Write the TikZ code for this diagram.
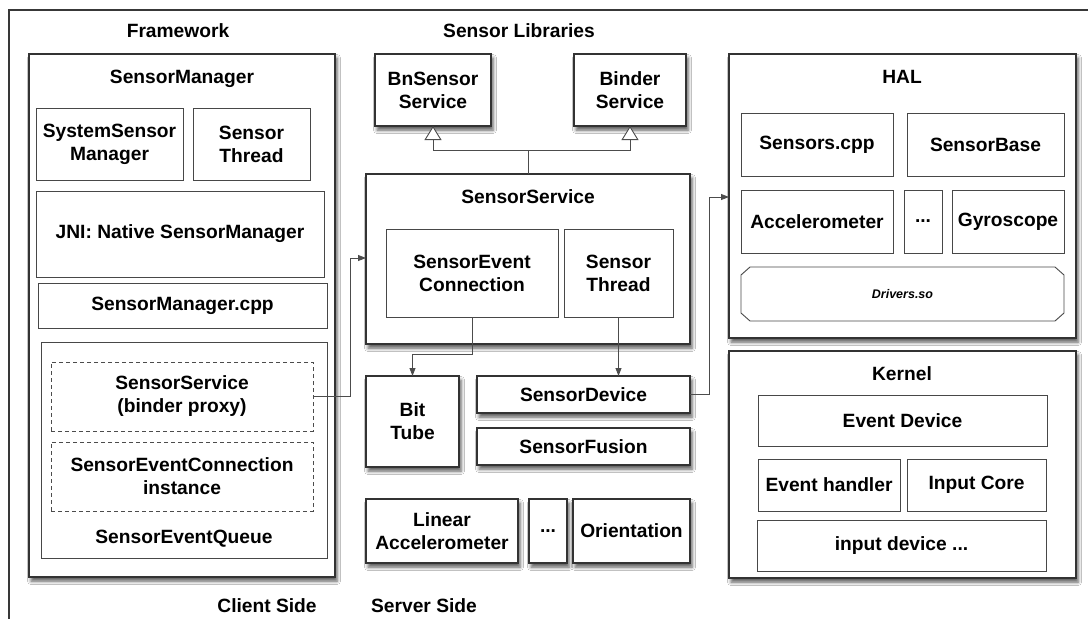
\documentclass[tikz,border=0pt]{standalone}
\usepackage{fontspec}
\setmainfont{Liberation Sans}
\usetikzlibrary{shadows.blur,arrows.meta,calc}
\begin{document}
\begin{tikzpicture}[x=1pt,y=-1pt,
  txt/.style={font=\fontsize{19.2}{23}\selectfont\bfseries, align=center},
  obox/.style={draw=black!80, line width=1.3pt, fill=white, anchor=north west, inner sep=0pt, outer sep=0pt,
     blur shadow={shadow xshift=2pt, shadow yshift=-4pt, shadow blur radius=3.5pt, shadow opacity=65}, txt},
  ibox/.style={draw=black!72, line width=0.9pt, fill=white, anchor=north west, inner sep=0pt, outer sep=0pt, txt},
  dbox/.style={ibox, dash pattern=on 4pt off 3pt, draw=black!70},
  conn/.style={draw=black!70, line width=0.9pt},
  arr/.style={conn, -{Triangle[length=8pt,width=6pt]}},
  inh/.style={conn, -{Triangle[open,length=14pt,width=17pt,fill=white]}},
  lbl/.style={txt, anchor=base, inner sep=0pt}
]
\useasboundingbox (0,0) rectangle (1088,619);
\fill[white] (0,0) rectangle (1088,619);
% outer frame
\draw[draw=black!78, line width=1.2pt] (1088,10) -- (9,10) -- (9,619);

% headings
\node[lbl] (hFw) at (178,37) {Framework};
\node[lbl] (hSL) at (519,37) {Sensor Libraries};
\node[lbl] (hCS) at (267,612) {Client Side};
\node[lbl] (hSS) at (424,612) {Server Side};

% Framework
\node[obox, minimum width=306, minimum height=523] (sm) at (29,54) {};
\node[lbl] (smT) at (182,83) {SensorManager};
\node[ibox, minimum width=147, minimum height=72] (ssm) at (36,108) {SystemSensor\\Manager};
\node[ibox, minimum width=117, minimum height=72] (smt) at (193,108) {Sensor\\Thread};
\node[ibox, minimum width=288, minimum height=86] (jni) at (36,191) {JNI: Native SensorManager};
\node[ibox, minimum width=289, minimum height=45] (smcpp) at (38,283) {SensorManager.cpp};
\node[ibox, minimum width=286, minimum height=216] (seq) at (41,342) {};
\node[dbox, minimum width=262, minimum height=69] (proxy) at (51,362) {SensorService\\(binder proxy)};
\node[dbox, minimum width=262, minimum height=69] (seci) at (51,442) {SensorEventConnection\\instance};
\node[lbl] (seqT) at (184,543) {SensorEventQueue};

% Sensor libraries
\node[obox, minimum width=116, minimum height=72] (bn) at (375,54) {BnSensor\\Service};
\node[obox, minimum width=112, minimum height=72] (binder) at (574,54) {Binder\\Service};
\node[obox, minimum width=324, minimum height=170] (ss) at (366,174) {};
\node[lbl] (ssT) at (528,203) {SensorService};
\node[ibox, minimum width=172, minimum height=88] (sec) at (386,229) {SensorEvent\\Connection};
\node[ibox, minimum width=109, minimum height=88] (sst) at (564,229) {Sensor\\Thread};
\node[obox, minimum width=93, minimum height=91] (bt) at (366,376) {Bit\\Tube};
\node[obox, minimum width=213, minimum height=37] (sd) at (477,376) {SensorDevice};
\node[obox, minimum width=213, minimum height=37] (sf) at (477,428) {SensorFusion};
\node[obox, minimum width=152, minimum height=64] (la) at (366,499) {Linear\\Accelerometer};
\node[obox, minimum width=38, minimum height=64] (dots1) at (529,499) {...};
\node[obox, minimum width=117, minimum height=64] (ori) at (573,499) {Orientation};

% HAL
\node[obox, minimum width=347, minimum height=284] (hal) at (729,54) {};
\node[lbl] (halT) at (902,83) {HAL};
\node[ibox, minimum width=152, minimum height=63] (scpp) at (741,113) {Sensors.cpp};
\node[ibox, minimum width=157, minimum height=63] (sb) at (907,113) {SensorBase};
\node[ibox, minimum width=152, minimum height=63] (acc) at (741,190) {Accelerometer};
\node[ibox, minimum width=38, minimum height=63] (dots2) at (904,190) {...};
\node[ibox, minimum width=112, minimum height=63] (gyro) at (952,190) {Gyroscope};
\node[anchor=north west, inner sep=0pt, outer sep=0pt, minimum width=323, minimum height=54,
      font=\fontsize{12.5}{15}\selectfont\bfseries\itshape] (drv) at (741,267) {Drivers.so};
\draw[draw=black!72, line width=0.9pt]
  ([xshift=9pt]drv.north west) -- ([xshift=-9pt]drv.north east) -- ([yshift=-8pt]drv.north east)
  -- ([yshift=8pt]drv.south east) -- ([xshift=-9pt]drv.south east) -- ([xshift=9pt]drv.south west)
  -- ([yshift=8pt]drv.south west) -- ([yshift=-8pt]drv.north west) -- cycle;

% Kernel
\node[obox, minimum width=347, minimum height=227] (kern) at (729,351) {};
\node[lbl] (kernT) at (902,380) {Kernel};
\node[ibox, minimum width=289, minimum height=51] (ed) at (758,395) {Event Device};
\node[ibox, minimum width=142, minimum height=52] (eh) at (758,459) {Event handler};
\node[ibox, minimum width=139, minimum height=52] (ic) at (907,459) {Input Core};
\node[ibox, minimum width=289, minimum height=51] (id) at (757,520) {input device ...};

% connectors
\coordinate (c1) at (350,258);
\draw[arr] (proxy.east) -| (c1) -- (c1 -| ss.west);
\coordinate (c2) at (709,197);
\draw[arr] (sd.east) -| (c2) -- (c2 -| hal.west);
\coordinate (c3) at (0,354);
\draw[arr] (sec.south) -- (sec.south |- c3) -| (bt.north);
\draw[arr] (sst.south) -- (sst.south |- sd.north);
\coordinate (c4) at (0,150);
\draw[inh] (ss.north) -- (ss.north |- c4) -| (bn.south);
\draw[inh] (ss.north) -- (ss.north |- c4) -| (binder.south);
\end{tikzpicture}
\end{document}
